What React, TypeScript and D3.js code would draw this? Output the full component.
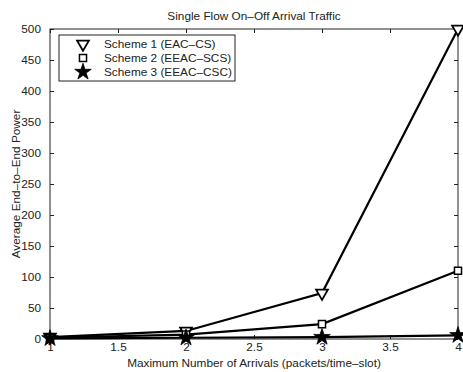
import React, { useEffect, useRef } from 'react';
import * as d3 from 'd3';

// values
const arrivals = [1, 2, 3, 4];
const scheme1 = [3, 13, 74, 500];
const scheme2 = [2, 7, 24, 110];
const scheme3 = [1, 2, 3, 6];
const seriesNames = ['Scheme 1 (EAC\u2013CS)', 'Scheme 2 (EEAC\u2013SCS)', 'Scheme 3 (EEAC\u2013CSC)'];
const xTicks = [1, 1.5, 2, 2.5, 3, 3.5, 4];
const yTicks = [0, 50, 100, 150, 200, 250, 300, 350, 400, 450, 500];

const App = () => {
  const svgRef = useRef<SVGSVGElement>(null);

  useEffect(() => {
    const svg = d3.select(svgRef.current);
    svg.selectAll('*').remove();

    const margin = { top: 29, right: 5, bottom: 33, left: 50 };
    const W = 463;
    const H = 372;
    const font = 'Liberation Sans, Arial, sans-serif';
    const fs = 11.8;

    const x = d3.scaleLinear().domain([1, 4]).range([margin.left, W - margin.right]);
    const y = d3.scaleLinear().domain([0, 500]).range([H - margin.bottom, margin.top]);

    svg.append('rect').attr('width', W).attr('height', H).attr('fill', '#fff');

    // frame
    svg
      .append('rect')
      .attr('x', x(1))
      .attr('y', y(500))
      .attr('width', x(4) - x(1))
      .attr('height', y(0) - y(500))
      .attr('fill', 'none')
      .attr('stroke', '#222')
      .attr('stroke-width', 1);

    // axes with inward ticks
    const tk = 4;
    const bottom = svg.append('g').attr('transform', `translate(0,${y(0)})`)
      .call(d3.axisBottom(x).tickValues(xTicks).tickSize(-tk).tickPadding(4).tickFormat(d3.format('')));
    const top = svg.append('g').attr('transform', `translate(0,${y(500)})`)
      .call(d3.axisTop(x).tickValues(xTicks).tickSize(-tk).tickFormat(() => ''));
    const left = svg.append('g').attr('transform', `translate(${x(1)},0)`)
      .call(d3.axisLeft(y).tickValues(yTicks).tickSize(-tk).tickPadding(9));
    const right = svg.append('g').attr('transform', `translate(${x(4)},0)`)
      .call(d3.axisRight(y).tickValues(yTicks).tickSize(-tk).tickFormat(() => ''));
    [bottom, top, left, right].forEach((g) => {
      g.select('.domain').remove();
      g.selectAll('line').attr('stroke', '#222');
      g.selectAll('text').attr('font-family', font).attr('font-size', fs).attr('fill', '#222');
    });

    // lines + markers
    const all = [scheme1, scheme2, scheme3];
    const line = d3.line<number>().x((d, i) => x(arrivals[i])).y((d) => y(d));
    all.forEach((s) => {
      svg.append('path').datum(s).attr('d', line).attr('fill', 'none').attr('stroke', '#000').attr('stroke-width', 2.2);
    });

    const tri = d3.symbol(d3.symbolTriangle, 60);
    const sq = d3.symbol(d3.symbolSquare, 50);
    const star = d3.symbol(d3.symbolStar, 85);
    const drawMarker = (k: number, cx: number, cy: number) => {
      if (k === 0) {
        svg.append('path').attr('d', tri()).attr('transform', `translate(${cx},${cy}) rotate(180)`)
          .attr('fill', '#fff').attr('stroke', '#000').attr('stroke-width', 1.8);
      } else if (k === 1) {
        svg.append('path').attr('d', sq()).attr('transform', `translate(${cx},${cy})`)
          .attr('fill', '#fff').attr('stroke', '#000').attr('stroke-width', 1.5);
      } else {
        svg.append('path').attr('d', star()).attr('transform', `translate(${cx},${cy})`)
          .attr('fill', '#000').attr('stroke', '#000').attr('stroke-width', 0.8);
      }
    };
    all.forEach((s, k) => s.forEach((v, i) => drawMarker(k, x(arrivals[i]), y(v))));

    // legend
    const lg = { x: 59, y: 35, w: 176, h: 46 };
    svg.append('rect').attr('x', lg.x).attr('y', lg.y).attr('width', lg.w).attr('height', lg.h)
      .attr('fill', '#fff').attr('stroke', '#222').attr('stroke-width', 1);
    seriesNames.forEach((name, k) => {
      const cy = lg.y + 9 + k * 14;
      drawMarker(k, 83, cy);
      svg.append('text').attr('x', 104).attr('y', cy + 4).text(name)
        .attr('font-family', font).attr('font-size', fs).attr('fill', '#222');
    });

    // titles
    svg.append('text').attr('x', (x(1) + x(4)) / 2).attr('y', 20).attr('text-anchor', 'middle')
      .attr('font-family', font).attr('font-size', fs).attr('fill', '#222').text('Single Flow On\u2013Off Arrival Traffic');
    svg.append('text').attr('x', (x(1) + x(4)) / 2).attr('y', 367).attr('text-anchor', 'middle')
      .attr('font-family', font).attr('font-size', fs).attr('fill', '#222')
      .text('Maximum Number of Arrivals (packets/time\u2013slot)');
    svg.append('text').attr('transform', `translate(20,${(y(0) + y(500)) / 2}) rotate(-90)`).attr('text-anchor', 'middle')
      .attr('font-family', font).attr('font-size', fs).attr('fill', '#222').text('Average End\u2013to\u2013End Power');
  }, []);

  return <svg ref={svgRef} width={463} height={372} style={{ position: 'absolute', left: 0, top: 0 }} />;
};

export default App;
